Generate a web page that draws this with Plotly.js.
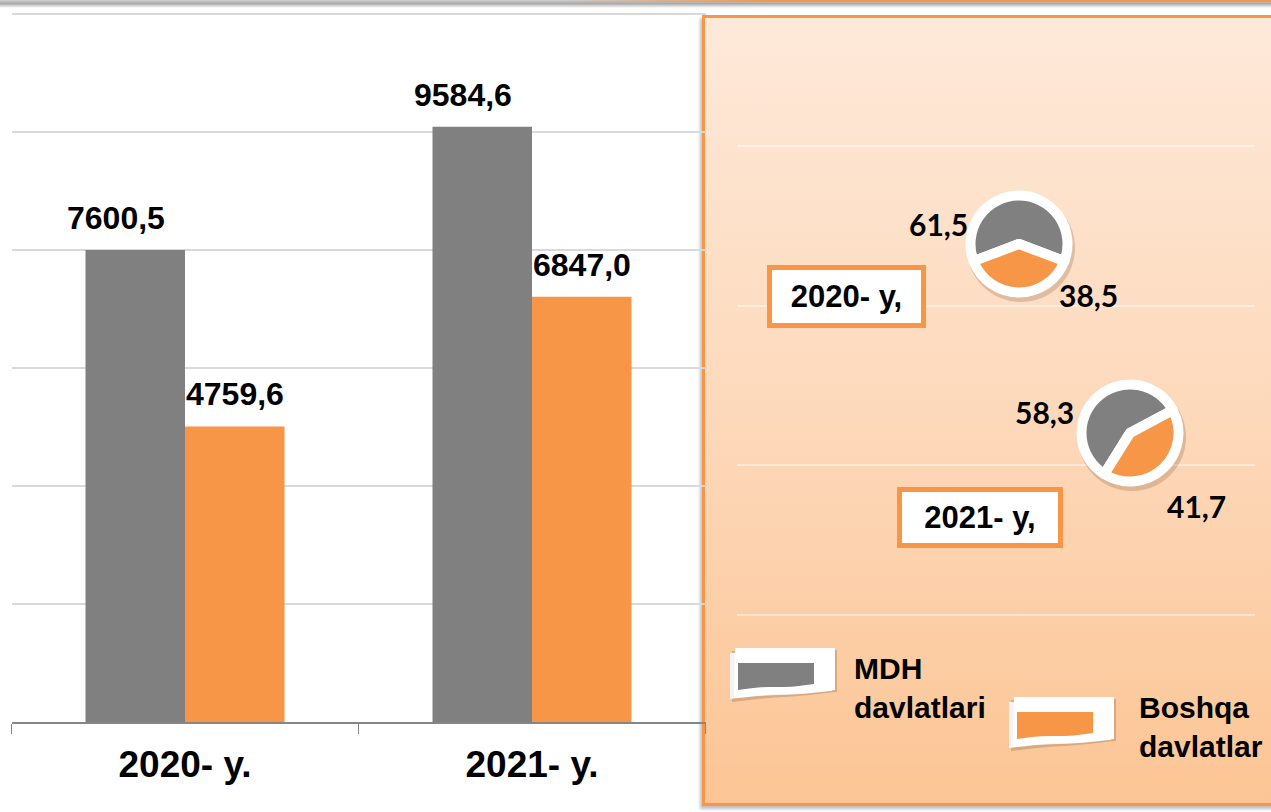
<!DOCTYPE html>
<html>
<head>
<meta charset="utf-8">
<script src="https://cdn.plot.ly/plotly-3.0.1.min.js"></script>
<style>
html,body{margin:0;padding:0;background:#fff;}
#wrap{position:relative;width:1271px;height:812px;overflow:hidden;background:#fff;}
#topband{position:absolute;left:0;top:0;width:1271px;height:8px;background:linear-gradient(to bottom,#d0d0d0 0%,#a9a9a9 45%,rgba(255,255,255,0) 100%);}
#topline{position:absolute;left:560px;top:0;width:711px;height:2px;background:linear-gradient(to right,rgba(247,150,70,0),#f79646 30%);}
#panel{position:absolute;left:702px;top:15px;width:600px;height:791px;box-sizing:border-box;border:3px solid #f79646;background:linear-gradient(to bottom,#fee9d9 0%,#fdd9bb 50%,#fcc595 100%);box-shadow:-2px 3px 3px rgba(0,0,0,0.25);}
#chart{position:absolute;left:0;top:0;width:1271px;height:812px;}
</style>
</head>
<body>
<div id="wrap">
  <div id="topband"></div>
  <div id="topline"></div>
  <div id="panel"></div>
  <div id="chart"></div>
</div>
<script>
// ---- data ----
const categories = ['2020- y.', '2021- y.'];
const mdhValues = [7600.5, 9584.6];
const boshqaValues = [4759.6, 6847.0];
const seriesNames = ['MDH davlatlari', 'Boshqa davlatlar'];
const pieYearLabels = ['2020- y,', '2021- y,'];
const pie2020 = [61.5, 38.5];
const pie2021 = [58.3, 41.7];

// ---- style ----
const W = 1271, H = 812;
const GRAY = '#808080', ORANGE = '#f79646';
const px = x => x / W;
const py = y => 1 - y / H;
const fmt = v => v.toFixed(1).replace('.', ',');
const arial = 'Liberation Sans, Arial, sans-serif';
const lato = 'Lato, Liberation Sans, sans-serif';
const yMax = 11400;

const traces = [
  {type:'bar', x:categories, y:mdhValues, name:seriesNames[0], marker:{color:GRAY}, hoverinfo:'none'},
  {type:'bar', x:categories, y:boshqaValues, name:seriesNames[1], marker:{color:ORANGE}, hoverinfo:'none'}
];

const pieSpecs = [
  {values:pie2020, cx:1019, cy:244, rot:-110.7},
  {values:pie2021, cx:1130, cy:433, rot:-148}
];
const pieR = 48.5;
pieSpecs.forEach(p => {
  traces.push({
    type:'pie', values:p.values, labels:seriesNames, sort:false, direction:'clockwise',
    rotation:p.rot, textinfo:'none', hoverinfo:'none', showlegend:false,
    marker:{colors:[GRAY, ORANGE], line:{color:'#ffffff', width:10}},
    domain:{x:[px(p.cx - pieR), px(p.cx + pieR)], y:[py(p.cy + pieR), py(p.cy - pieR)]}
  });
});

const annotations = [];
categories.forEach((c, i) => {
  annotations.push({x:c, y:mdhValues[i], xref:'x', yref:'y', text:fmt(mdhValues[i]), showarrow:false,
    xanchor:'center', yanchor:'bottom', xshift:-69, yshift:12,
    font:{family:arial, size:32, color:'#000', weight:700}});
  annotations.push({x:c, y:boshqaValues[i], xref:'x', yref:'y', text:fmt(boshqaValues[i]), showarrow:false,
    xanchor:'center', yanchor:'bottom', xshift:50, yshift:12,
    font:{family:arial, size:32, color:'#000', weight:700}});
});

// pie value labels
const pieLabelPos = [
  [[938, 224], [1088, 295]],
  [[1044, 412], [1196, 506]]
];
pieSpecs.forEach((p, i) => {
  p.values.forEach((v, j) => {
    annotations.push({x:px(pieLabelPos[i][j][0]), y:py(pieLabelPos[i][j][1]), xref:'paper', yref:'paper',
      text:'<b>' + fmt(v) + '</b>', showarrow:false, xanchor:'center', yanchor:'middle',
      font:{family:lato, size:30, color:'#000', weight:900}});
  });
});

// year boxes
const yearBoxes = [
  {cx:846.5, cy:296.5, w:149, h:53},
  {cx:980, cy:517.5, w:156, h:51}
];
yearBoxes.forEach((b, i) => {
  annotations.push({x:px(b.cx), y:py(b.cy), xref:'paper', yref:'paper', text:pieYearLabels[i],
    showarrow:false, xanchor:'center', yanchor:'middle', width:b.w, height:b.h,
    bgcolor:'#ffffff', bordercolor:ORANGE, borderwidth:5, borderpad:0, align:'center', valign:'middle',
    font:{family:arial, size:31, color:'#000', weight:700}});
});

// legend text
const legendPos = [[852, 688], [1137, 727]];
seriesNames.forEach((n, i) => {
  const parts = n.split(' ');
  annotations.push({x:px(legendPos[i][0]), y:py(legendPos[i][1]), xref:'paper', yref:'paper',
    text:parts[0] + '<br>' + parts[1], showarrow:false, xanchor:'left', yanchor:'middle', align:'left',
    font:{family:arial, size:30, color:'#000', weight:700}});
});

// shapes
const shapes = [];
const pathOf = pts => pts.map((p, k) => (k ? 'L' : 'M') + px(p[0]) + ',' + py(p[1])).join(' ') + ' Z';
// panel inner lines
[146, 306, 465, 615].forEach(y => {
  shapes.push({type:'line', xref:'paper', yref:'paper', x0:px(737), x1:px(1255), y0:py(y), y1:py(y),
    line:{color:'rgba(255,255,255,0.45)', width:2}, layer:'below'});
});
// pie shadows
pieSpecs.forEach(p => {
  const r = 54;
  shapes.push({type:'circle', xref:'paper', yref:'paper', x0:px(p.cx - r + 2), x1:px(p.cx + r + 2),
    y0:py(p.cy + r + 4), y1:py(p.cy - r + 4), fillcolor:'rgba(120,70,30,0.22)', line:{width:0}, layer:'below'});
});
// legend icons
function wave(x0, x1, yTopR, yBotL, steps) {
  const pts = [];
  for (let k = 0; k <= steps; k++) {
    const t = k / steps;
    const x = x1 - (x1 - x0) * t;
    const y = yTopR + (yBotL - yTopR) * (0.5 - 0.5 * Math.cos(Math.PI * t)) + 1.5 * Math.sin(2 * Math.PI * t);
    pts.push([x, y]);
  }
  return pts;
}
function icon(ox, oy, color) {
  shapes.push({type:'path', xref:'paper', yref:'paper', layer:'above', line:{width:0},
    fillcolor:'rgba(110,70,40,0.25)',
    path:pathOf([[ox + 2, oy + 3], [ox + 107, oy + 2], [ox + 107, oy + 44]].concat(wave(ox + 2, ox + 105, oy + 44, oy + 54, 12)))});
  shapes.push({type:'path', xref:'paper', yref:'paper', layer:'above', line:{width:0}, fillcolor:'#f4f4f4',
    path:pathOf([[ox, oy + 5], [ox + 102, oy + 3], [ox + 102, oy + 43]].concat(wave(ox, ox + 100, oy + 43, oy + 51, 12)))});
  shapes.push({type:'path', xref:'paper', yref:'paper', layer:'above', line:{width:0}, fillcolor:'#ffffff',
    path:pathOf([[ox + 5, oy], [ox + 105, oy], [ox + 105, oy + 42]].concat(wave(ox + 4, ox + 105, oy + 42, oy + 50, 12)))});
  shapes.push({type:'path', xref:'paper', yref:'paper', layer:'above', line:{width:0}, fillcolor:color,
    path:pathOf([[ox + 8, oy + 15], [ox + 84, oy + 15], [ox + 84, oy + 36]].concat(wave(ox + 8, ox + 84, oy + 36, oy + 42, 10)))});
}
icon(730, 648, GRAY);
icon(1009, 697, ORANGE);

const layout = {
  width:W, height:H,
  margin:{l:0, r:0, t:0, b:0},
  paper_bgcolor:'rgba(0,0,0,0)', plot_bgcolor:'rgba(0,0,0,0)',
  showlegend:false,
  barmode:'group', bargap:0.4265, bargroupgap:0,
  xaxis:{domain:[px(11.5), px(705.5)], type:'category', range:[-0.5, 1.5], fixedrange:true,
    showline:true, linecolor:'#868686', linewidth:1.5, showgrid:false, zeroline:false,
    ticks:'outside', tickson:'boundaries', ticklen:10, tickcolor:'#868686', tickwidth:1.5,
    ticklabelstandoff:9,
    tickfont:{family:arial, size:37, color:'#000', weight:700}},
  yaxis:{domain:[py(722), py(12)], range:[0, yMax * 1.003], fixedrange:true,
    tickvals:[0, 1, 2, 3, 4, 5, 6].map(k => k * yMax / 6), showticklabels:false,
    showgrid:true, gridcolor:'#d9d9d9', gridwidth:1.5, zeroline:false, showline:false, ticks:''},
  annotations:annotations,
  shapes:shapes
};

Plotly.newPlot('chart', traces, layout, {staticPlot:true, displayModeBar:false});
</script>
</body>
</html>
